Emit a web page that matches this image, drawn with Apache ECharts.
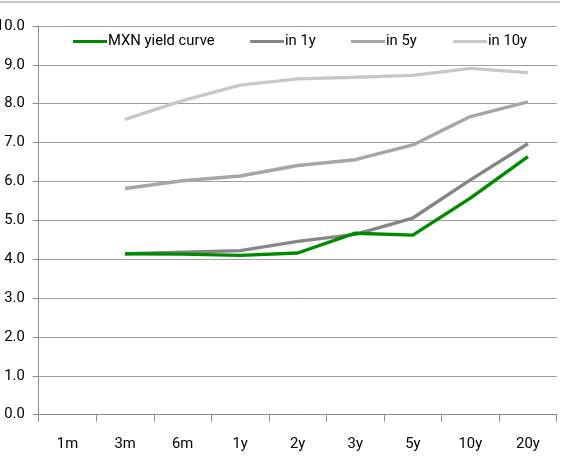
<!DOCTYPE html>
<html>
<head>
<meta charset="utf-8">
<script src="https://cdn.jsdelivr.net/npm/echarts@6/dist/echarts.min.js"></script>
<style>
html,body{margin:0;padding:0;background:#fff;}
#c{width:569px;height:466px;}
</style>
</head>
<body>
<div id="c"></div>
<script>
var categories = ['1m','3m','6m','1y','2y','3y','5y','10y','20y'];
var mxnCurve = [null, 4.14, 4.13, 4.10, 4.16, 4.67, 4.62, 5.57, 6.64];
var in1y     = [null, 4.14, 4.18, 4.22, 4.46, 4.64, 5.06, 6.04, 6.97];
var in5y     = [null, 5.82, 6.02, 6.14, 6.41, 6.56, 6.94, 7.67, 8.05];
var in10y    = [null, 7.60, 8.08, 8.48, 8.64, 8.68, 8.73, 8.91, 8.80];
var yTicks = [0,1,2,3,4,5,6,7,8,9,10];

var FONT = 'Roboto, sans-serif';
var FS = 14.8;
var names = ['MXN yield curve','in 1y','in 5y','in 10y'];
var colors = ['#008a00','#868686','#a6a6a6','#c8c8c8'];
var lefts = [73, 250, 351, 453];

var chart = echarts.init(document.getElementById('c'), null, {renderer:'canvas'});
var legends = names.map(function(n, i){
  return {
    data: [n], left: lefts[i], top: 34, icon: 'rect',
    itemWidth: 34, itemHeight: 3, padding: 0,
    textStyle: {fontFamily: FONT, fontSize: FS, color: '#000', padding: [0,0,0,-4]}
  };
});
var series = [mxnCurve, in1y, in5y, in10y].map(function(d, i){
  return {
    name: names[i], type: 'line', data: d, symbol: 'none',
    lineStyle: {color: colors[i], width: 3.4}, itemStyle: {color: colors[i]},
    z: 10 - i
  };
});
chart.setOption({
  animation: false,
  backgroundColor: '#fff',
  legend: legends,
  grid: {left: 38.7, right: 12.3, top: 26, bottom: 51.3, containLabel: false, outerBoundsMode: 'none'},
  xAxis: {
    type: 'category', data: categories, boundaryGap: true,
    axisLine: {lineStyle: {color: '#8c8c8c', width: 1}},
    axisTick: {show: true, length: 7, lineStyle: {color: '#8c8c8c'}},
    axisLabel: {fontFamily: FONT, fontSize: FS, color: '#000', margin: 22},
    splitLine: {show: false}
  },
  yAxis: {
    type: 'value', min: yTicks[0], max: yTicks[yTicks.length-1], interval: 1,
    axisLine: {show: true, lineStyle: {color: '#8c8c8c', width: 1}},
    axisTick: {show: true, length: 6, lineStyle: {color: '#8c8c8c'}},
    axisLabel: {fontFamily: FONT, fontSize: FS, color: '#000', margin: 14,
      formatter: function(v){ return v.toFixed(1); }},
    splitLine: {show: true, lineStyle: {color: '#a0a0a0', width: 1}}
  },
  graphic: [{
    type: 'line', shape: {x1: 0, y1: 2, x2: 560, y2: 2},
    style: {stroke: '#b4b4b4', lineWidth: 1.5}, silent: true
  }],
  series: series
});
</script>
</body>
</html>
